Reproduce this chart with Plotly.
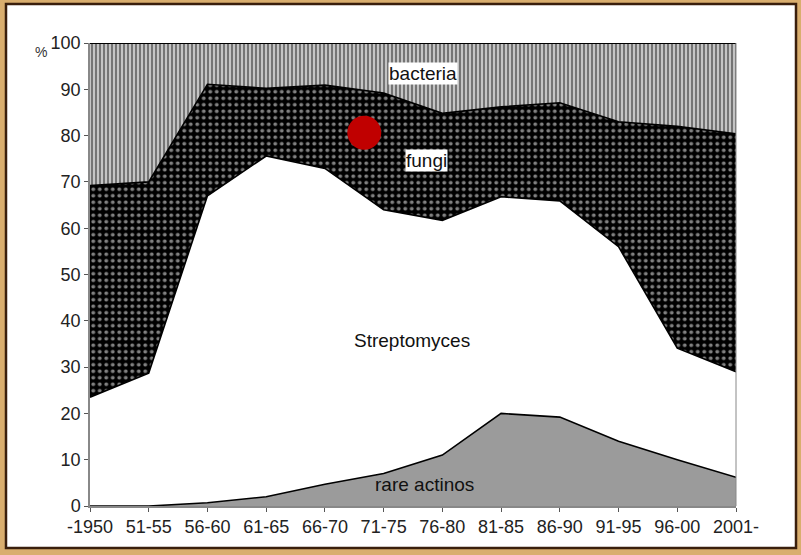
import plotly.graph_objects as go

# ---- data (percent of discoveries per period) ----
periods = ["-1950", "51-55", "56-60", "61-65", "66-70", "71-75", "76-80",
           "81-85", "86-90", "91-95", "96-00", "2001-"]
rare_actinos = [0, 0, 0.7, 2.0, 4.7, 7.0, 11.0, 20.0, 19.2, 14.0, 10.0, 6.2]
streptomyces = [23.5, 28.7, 66.3, 73.6, 68.2, 57.0, 50.7, 46.8, 46.7, 42.0, 24.1, 22.8]
fungi = [45.7, 41.3, 24.1, 14.6, 18.0, 25.2, 23.1, 19.4, 21.2, 27.0, 47.9, 51.4]
bacteria = [30.8, 30.0, 8.9, 9.8, 9.1, 10.8, 15.2, 13.8, 12.9, 17.0, 18.0, 19.6]
y_ticks = [0, 10, 20, 30, 40, 50, 60, 70, 80, 90, 100]

# red marker (category index, percent)
marker_pos = (4.67, 80.6)

W, H = 801, 555
L, R, T, B = 90, 65, 43, 49
pw, ph = W - L - R, H - T - B


def px_x(px):
    return (px - L) / pw


def px_y(py):
    return (H - B - py) / ph


FONT = "Liberation Sans, Arial, sans-serif"

fig = go.Figure()
fig.add_trace(go.Scatter(
    x=periods, y=rare_actinos, stackgroup="one", mode="lines",
    line=dict(color="black", width=1.6), fillcolor="#9b9b9b", name="rare actinos"))
fig.add_trace(go.Scatter(
    x=periods, y=streptomyces, stackgroup="one", mode="lines",
    line=dict(color="black", width=1.6), fillcolor="white", name="Streptomyces"))
fig.add_trace(go.Scatter(
    x=periods, y=fungi, stackgroup="one", mode="lines",
    line=dict(color="black", width=1.6), fillcolor="black",
    fillpattern=dict(shape=".", bgcolor="black", fgcolor="white", size=6.5, solidity=0.28),
    name="fungi"))
fig.add_trace(go.Scatter(
    x=periods, y=bacteria, stackgroup="one", mode="lines",
    line=dict(color="black", width=2), fillcolor="#a0a0a0",
    fillpattern=dict(shape="|", bgcolor="#c4c4c4", fgcolor="#111111", size=4, solidity=0.45),
    name="bacteria"))

shapes = [
    # white panel with dark brown border
    dict(type="rect", xref="paper", yref="paper", layer="below",
         x0=px_x(6), x1=px_x(796), y0=px_y(548), y1=px_y(4),
         fillcolor="white", line=dict(color="#3a1f0c", width=2.5)),
    # right edge of the plotted area
    dict(type="line", xref="paper", yref="paper", x0=1, x1=1, y0=0, y1=1,
         line=dict(color="#888888", width=1)),
    # red dot
    dict(type="circle", xref="x", yref="y", xsizemode="pixel", ysizemode="pixel",
         xanchor=marker_pos[0], yanchor=marker_pos[1], x0=-17, x1=17, y0=-17, y1=17,
         fillcolor="#c00000", line=dict(color="#c00000", width=0)),
]

font_lbl = dict(family=FONT, size=19, color="#111111")
common = dict(xref="paper", yref="paper", showarrow=False, xanchor="center", yanchor="middle")
annotations = [
    dict(x=px_x(423), y=px_y(73), text="bacteria", font=font_lbl,
         bgcolor="white", borderpad=0, **common),
    dict(x=px_x(426), y=px_y(160), text="fungi", font=font_lbl,
         bgcolor="white", borderpad=0, **common),
    dict(x=px_x(412), y=px_y(340), text="Streptomyces", font=font_lbl, **common),
    dict(x=px_x(424), y=px_y(484), text="rare actinos", font=font_lbl, **common),
    dict(x=px_x(41), y=px_y(52), text="%",
         font=dict(family=FONT, size=14, color="#333"), **common),
]

fig.update_layout(
    width=W, height=H,
    margin=dict(l=L, r=R, t=T, b=B, pad=0),
    paper_bgcolor="#d9ae6e",
    plot_bgcolor="white",
    showlegend=False,
    shapes=shapes,
    annotations=annotations,
    font=dict(family=FONT, size=18, color="#222222"),
    xaxis=dict(type="category", categoryorder="array", categoryarray=periods,
               range=[0, len(periods) - 1], showgrid=False, zeroline=False,
               showline=True, linecolor="#888888", linewidth=1.5,
               ticks="outside", ticklen=4, tickcolor="#555555",
               tickfont=dict(family=FONT, size=18, color="#222222")),
    yaxis=dict(range=[0, 100], tickvals=y_ticks, showgrid=False, zeroline=False,
               showline=True, linecolor="#888888", linewidth=1.5,
               ticks="outside", ticklen=4, tickcolor="#555555",
               tickfont=dict(family=FONT, size=18, color="#222222")),
)

fig.write_html("out.html", config={"displayModeBar": False},
               post_script="document.body.style.margin='0';")
